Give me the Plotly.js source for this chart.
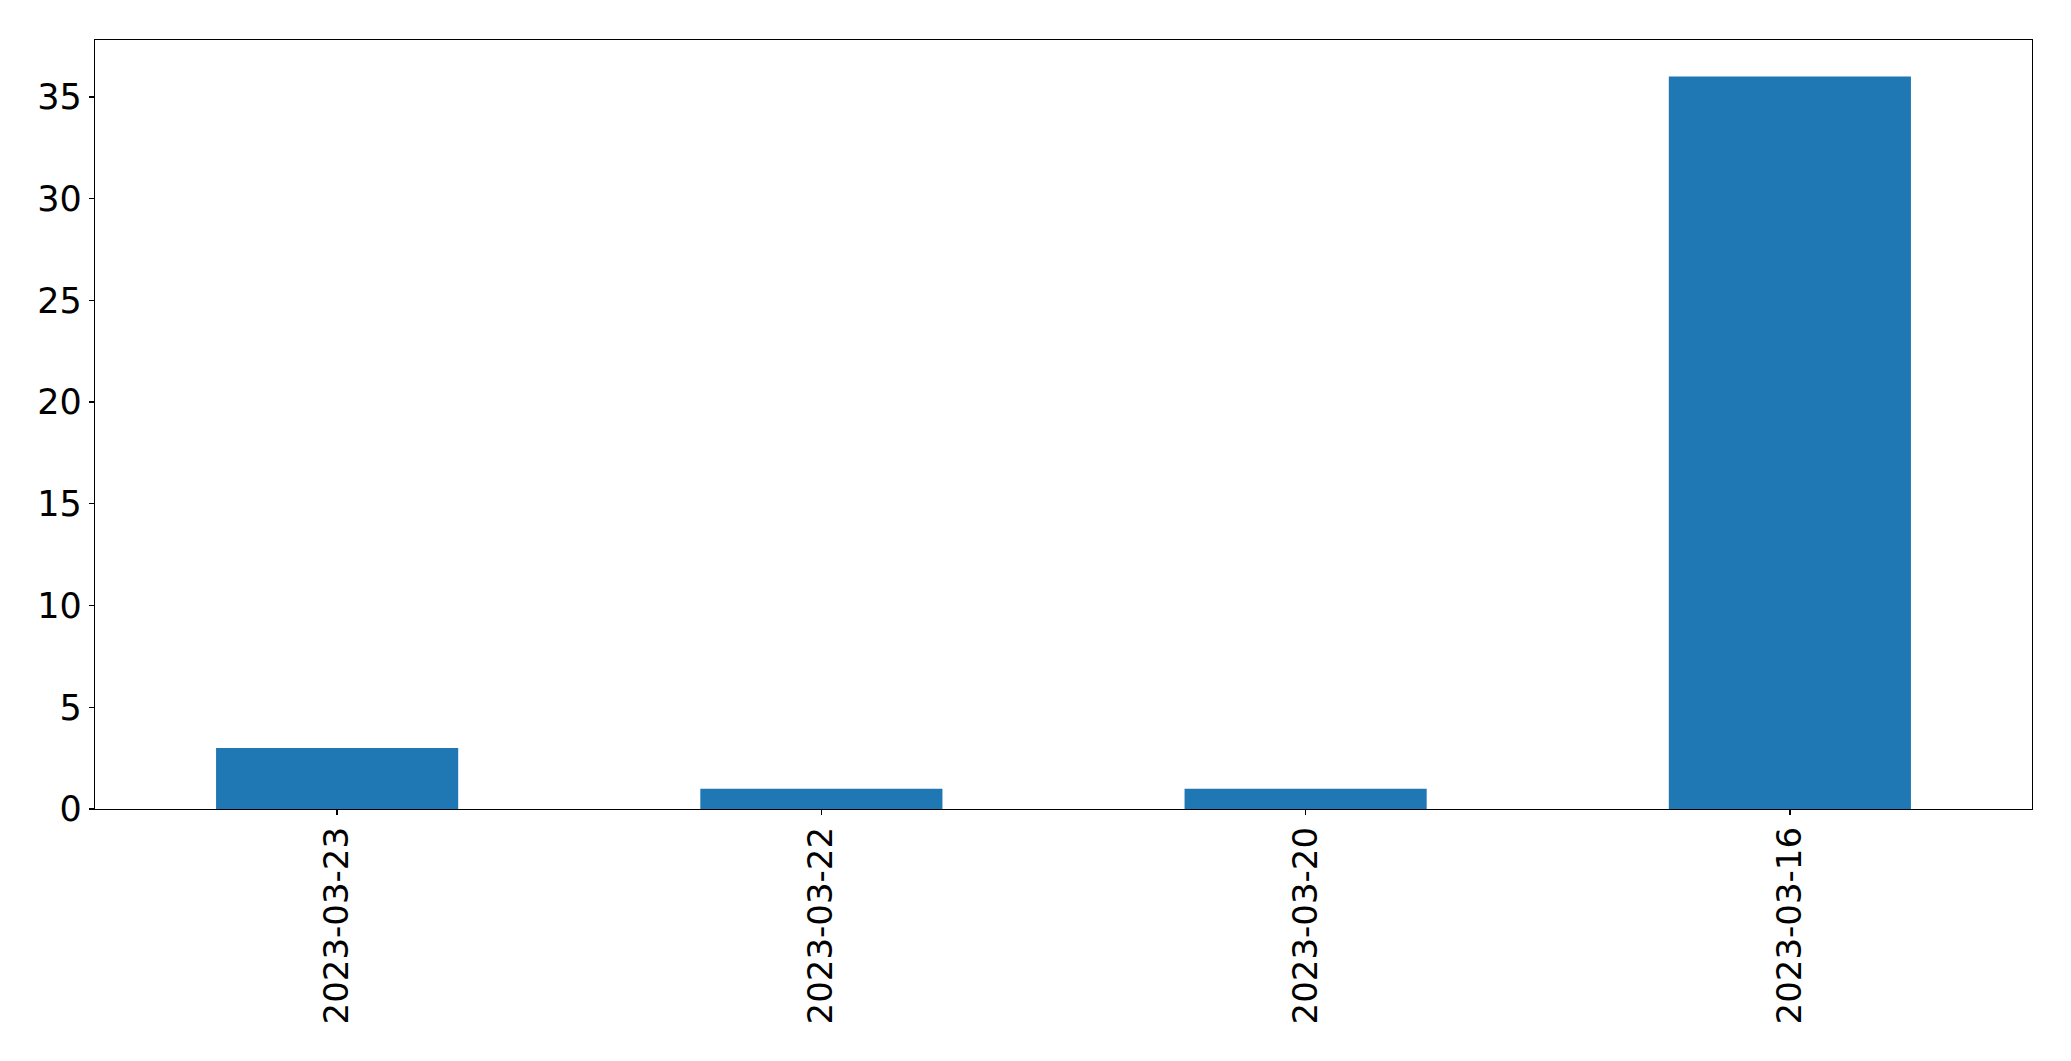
<!DOCTYPE html>
<html>
<head>
<meta charset="utf-8">
<script src="https://cdn.plot.ly/plotly-3.0.1.min.js"></script>
<style>html,body{margin:0;padding:0;background:#fff;}#chart{width:2071px;height:1061px;}</style>
</head>
<body>
<div id="chart"></div>
<script>
const categories = ["2023-03-23", "2023-03-22", "2023-03-20", "2023-03-16"];
const counts = [3, 1, 1, 36];
const yTicks = [0, 5, 10, 15, 20, 25, 30, 35];

const trace = {
  type: "bar",
  x: categories,
  y: counts,
  width: 0.5,
  marker: {color: "#1f77b4", line: {width: 0}},
  hoverinfo: "x+y"
};

const axisCommon = {
  showline: true,
  linecolor: "#000",
  linewidth: 1.3,
  mirror: true,
  ticks: "outside",
  ticklen: 5,
  tickwidth: 1.3,
  tickcolor: "#000",
  showgrid: false,
  zeroline: false
};

const layout = {
  width: 2071,
  height: 1061,
  margin: {l: 94.5, r: 39.3, t: 39.5, b: 252, pad: 0},
  paper_bgcolor: "#fff",
  plot_bgcolor: "#fff",
  showlegend: false,
  xaxis: Object.assign({}, axisCommon, {
    type: "category",
    range: [-0.5, 3.5],
    tickangle: -90,
    ticklabelstandoff: -2,
    tickfont: {family: "DejaVu Sans", size: 34, color: "#000"}
  }),
  yaxis: Object.assign({}, axisCommon, {
    range: [0, 37.8],
    tickvals: yTicks,
    ticktext: yTicks.map(String),
    ticklabelstandoff: 0,
    tickfont: {family: "DejaVu Sans", size: 35, color: "#000"}
  })
};

Plotly.newPlot("chart", [trace], layout, {displayModeBar: false, staticPlot: true});
</script>
</body>
</html>
